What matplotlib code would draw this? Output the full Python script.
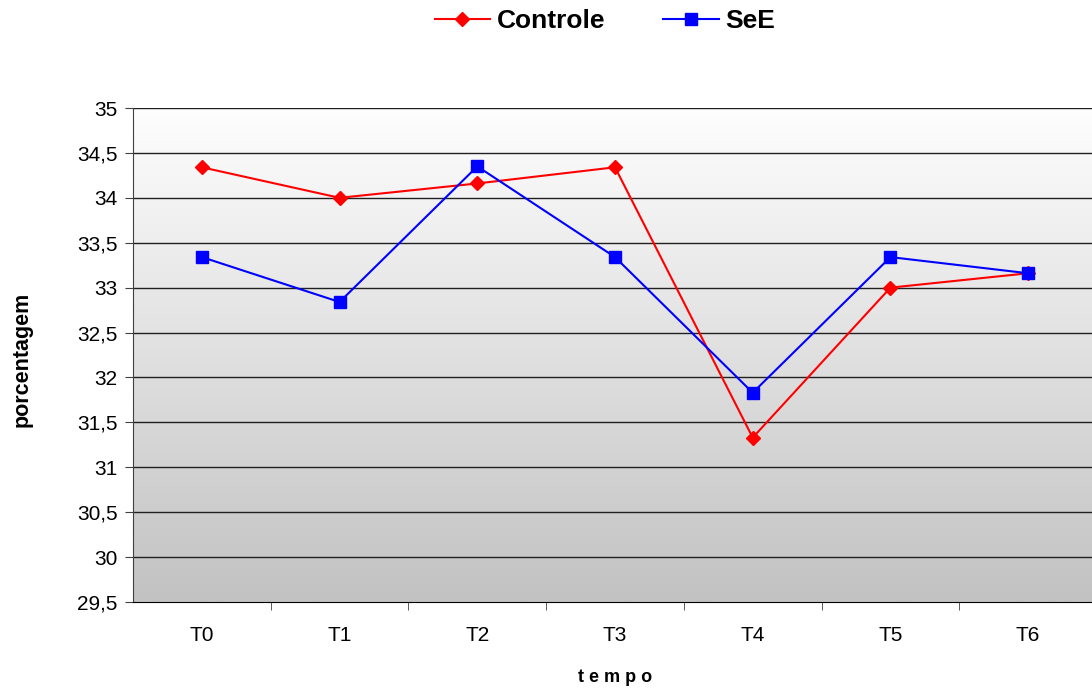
import matplotlib
matplotlib.use('Agg')
import matplotlib.pyplot as plt
from matplotlib.colors import LinearSegmentedColormap
import numpy as np

# data
categories = ["T0", "T1", "T2", "T3", "T4", "T5", "T6"]
controle = [34.34, 34.0, 34.16, 34.34, 31.33, 33.0, 33.16]
see = [33.34, 32.84, 34.35, 33.34, 31.83, 33.34, 33.16]
y_ticks = [29.5, 30, 30.5, 31, 31.5, 32, 32.5, 33, 33.5, 34, 34.5, 35]

plt.rcParams['font.family'] = ['Liberation Sans', 'DejaVu Sans']

W, H = 1092, 693
fig = plt.figure(figsize=(W / 100, H / 100), dpi=100)
# axes runs slightly past the right edge like the original
ax = fig.add_axes([133 / W, (H - 602) / H, (1097 - 133) / W, 494 / H])

# gradient background, white at top to grey at bottom
grad = np.linspace(0, 1, 256).reshape(-1, 1)
cmap = LinearSegmentedColormap.from_list("bg", ["#fefefe", "#c2c2c2"])
ax.imshow(grad, cmap=cmap, aspect='auto', extent=[0, 1, 0, 1],
          transform=ax.transAxes, zorder=0)

x = np.arange(len(categories))
ax.set_xlim(-0.5, len(categories) - 0.5)
ax.set_ylim(29.5, 35)

for yv in y_ticks[1:]:
    ax.axhline(yv, color='#202020', lw=1.0, zorder=1)

ax.plot(x, controle, color='#ff0000', lw=1.5, marker='D', markersize=7,
        label='Controle', zorder=3)
ax.plot(x, see, color='#0000ff', lw=1.5, marker='s', markersize=9,
        label='SeE', zorder=3)

ax.set_yticks(y_ticks)
ax.set_yticklabels([f"{v:g}".replace('.', ',') for v in y_ticks], fontsize=15)
ax.set_xticks(x)
ax.set_xticklabels(categories, fontsize=15)
ax.tick_params(axis='x', length=0, pad=17)
ax.set_xticks(np.arange(0.5, len(categories) - 0.5, 1), minor=True)
ax.tick_params(axis='x', which='minor', length=6, direction='out', color='#404040')
ax.tick_params(axis='y', length=6, direction='out', color='#404040', pad=5)

for s in ['top', 'right']:
    ax.spines[s].set_visible(False)
ax.spines['left'].set_color('#404040')
ax.spines['bottom'].set_color('#000000')

fig.text(22 / W, 1 - 359 / H, 'porcentagem', rotation=90, fontsize=15.5,
         fontweight='bold', ha='center', va='center')
fig.text(615 / W, 1 - 678 / H, 't e m p o', fontsize=13, fontweight='bold',
         ha='center', va='center')

fig.legend(loc='center', bbox_to_anchor=(605 / W, 1 - 21 / H), ncol=2,
           frameon=False, prop={'size': 19, 'weight': 'bold'},
           handlelength=2.1, columnspacing=2.2, handletextpad=0.25)

fig.savefig('out.png', dpi=100)
